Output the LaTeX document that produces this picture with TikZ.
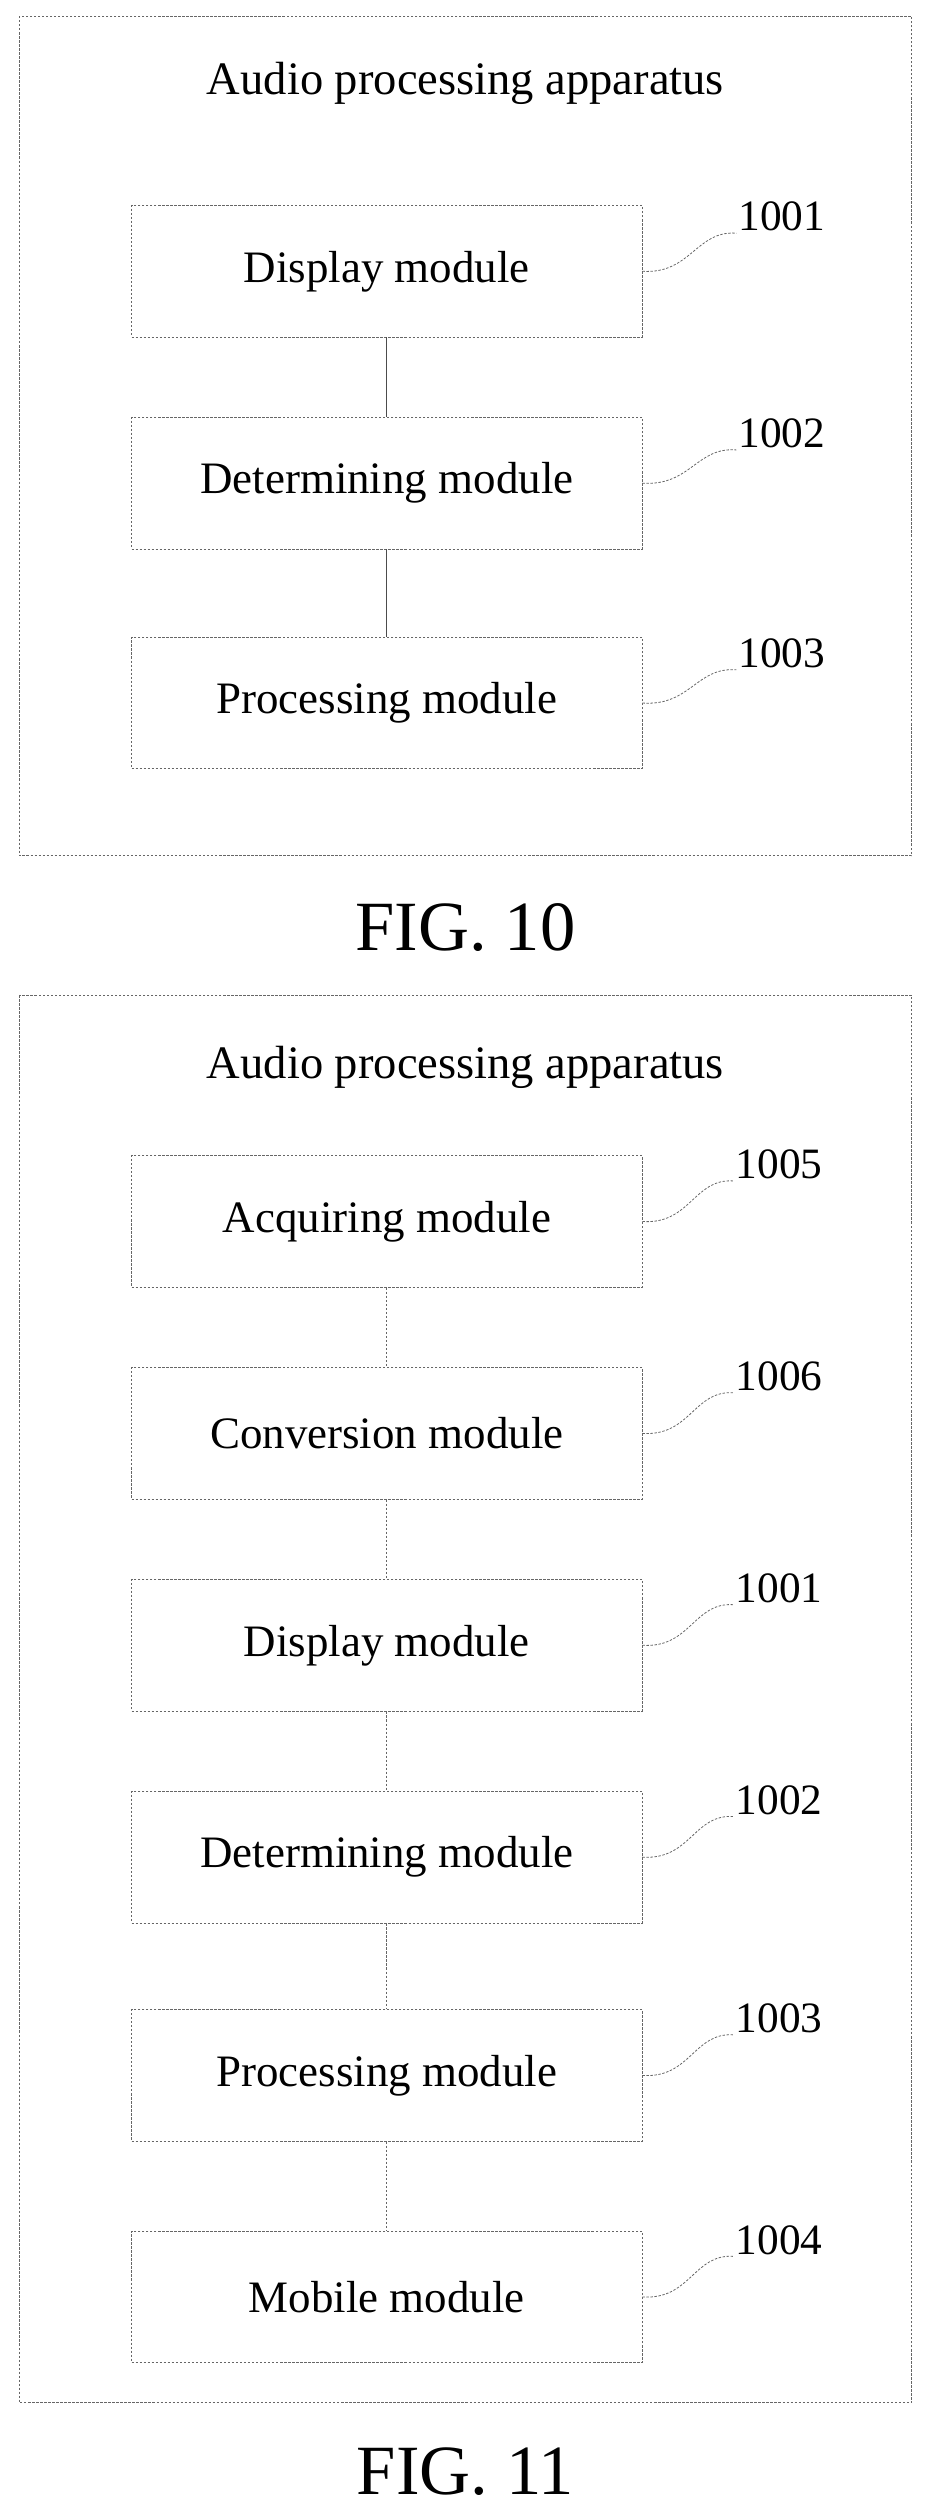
\documentclass[tikz,border=0pt]{standalone}
\usepackage{fontspec}
\setmainfont{Liberation Serif}
\usetikzlibrary{positioning}
\tikzset{
  frame/.style = {draw=black!60, dashed, dash pattern=on 1.5pt off 1pt, line width=0.5pt},
  module/.style = {draw=black!60, dash pattern=on 1.5pt off 1pt, line width=0.5pt,
    minimum width=318pt, minimum height=82pt, font=\fontsize{28}{32}\selectfont},
  ref/.style = {font=\fontsize{27}{31}\selectfont, inner sep=1pt},
  lead/.style = {draw=black!60, line width=0.5pt, dash pattern=on 1.5pt off 1pt},
  link/.style = {draw=black!70, line width=0.6pt}
}
\begin{document}
\begin{tikzpicture}[x=1pt, y=-1pt]
  \useasboundingbox (0,0) rectangle (580,1565);
  % FIG. 10
  \draw[frame] (12,10) rectangle (568,533);
  \node[ref, font=\fontsize{29}{33}\selectfont] (title10) at (290,52) {Audio processing apparatus};
  \node[module] (disp10) at (241,169) {Display module};
  \node[module] (det10) at (241,301) {Determining module};
  \node[module] (proc10) at (241,438) {Processing module};
  \draw[link] (disp10) -- (det10);
  \draw[link] (det10) -- (proc10);
  \foreach \m/\r/\y in {disp10/1001/135, det10/1002/270, proc10/1003/407}{
    \node[ref] (r\m) at (487,\y) {\r};
    \draw[lead] (\m.east) .. controls +(30,2) and +(-25,-2) .. (r\m.south west);
  }
  \node[font=\fontsize{44}{50}\selectfont] (fig10) at (290,578) {FIG. 10};
  % FIG. 11
  \draw[frame] (12,620) rectangle (568,1497);
  \node[ref, font=\fontsize{29}{33}\selectfont] (title11) at (290,665) {Audio processing apparatus};
  \foreach \m/\t/\y [count=\i] in {acq/Acquiring module/761, conv/Conversion module/893,
      disp/Display module/1025, det/Determining module/1157,
      proc/Processing module/1293, mob/Mobile module/1431}{
    \node[module] (\m) at (241,\y) {\t};
  }
  \foreach \a/\b in {acq/conv, conv/disp, disp/det, det/proc, proc/mob}
    \draw[lead] (\a) -- (\b);
  \foreach \m/\r in {acq/1005, conv/1006, disp/1001, det/1002, proc/1003, mob/1004}{
    \node[ref, above right=-16pt and 57pt of \m.north east] (r\m) {\r};
    \draw[lead] (\m.east) .. controls +(30,2) and +(-25,-2) .. (r\m.south west);
  }
  \node[font=\fontsize{44}{50}\selectfont] (fig11) at (290,1540) {FIG. 11};
\end{tikzpicture}
\end{document}
